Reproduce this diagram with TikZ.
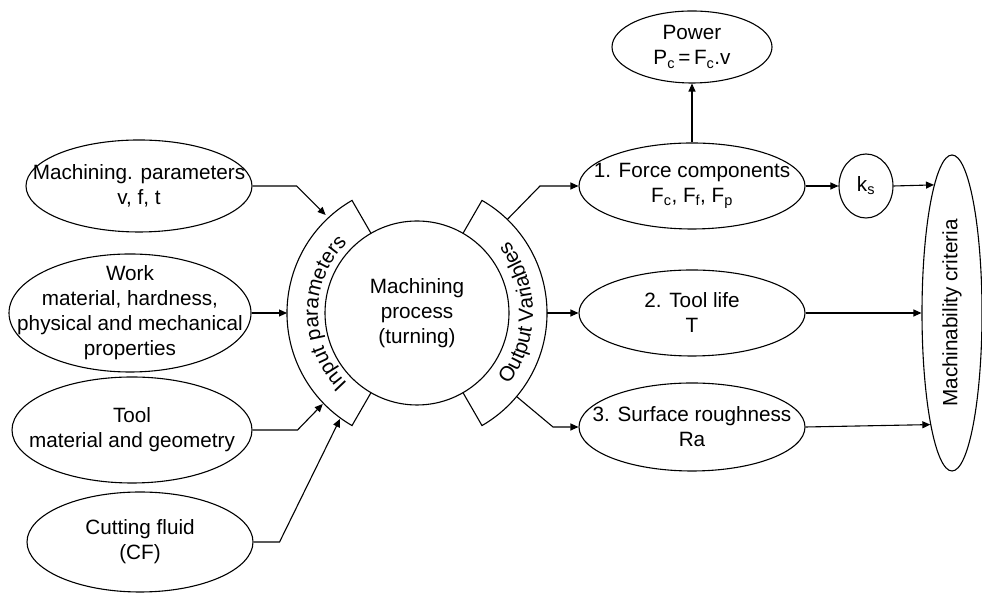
\documentclass[tikz,border=0pt]{standalone}
\usepackage{fontspec}
\setmainfont{Liberation Sans}
\usepackage{graphicx}
\usetikzlibrary{shapes.geometric,arrows.meta,calc,decorations.text}
\newcommand\dfont{\fontsize{20.7}{25}\selectfont}
\tikzset{
  oval/.style={ellipse,draw,line width=1.1pt,inner sep=0pt},
  txt/.style={align=center,font=\dfont},
  arr/.style={-{Triangle[length=8pt,width=7pt]},line width=1.1pt},
}

\begin{document}
\begin{tikzpicture}[x=1pt,y=1pt]
   \useasboundingbox (0,0) rectangle (982,593);

   % process in the middle
   \node[circle,draw,line width=1.1pt,minimum size=184,inner sep=0pt,txt] (proc) at (417,280) {Machining\\process\\(turning)};
   \draw[line width=1.1pt] ($(proc.center)+(120:92)$) -- ++(120:38) arc[start angle=120,end angle=240,radius=130pt] -- ++(60:38);
   \draw[line width=1.1pt] ($(proc.center)+(60:92)$) -- ++(60:38) arc[start angle=60,end angle=-60,radius=130pt] -- ++(120:38);
   \path[decorate,decoration={text along path,text align=center,text={|\dfont|Input parameters}}]
      ($(proc.center)+(240:99)$) arc[start angle=240,end angle=120,radius=99pt];
   \path[decorate,decoration={text along path,text align=center,text={|\dfont|Output Variables}}]
      ($(proc.center)+(-60:116)$) arc[start angle=-60,end angle=60,radius=116pt];

   % inputs
   \node[oval,minimum width=226,minimum height=92,label={[txt]center:Machining. parameters\\v, f, t}] (mpar) at (139,407) {};
   \node[oval,minimum width=242,minimum height=118,label={[txt]center:Work\\material, hardness,\\physical and mechanical\\properties}] (work) at (130,280) {};
   \node[oval,minimum width=240,minimum height=106,label={[txt]center:Tool\\material and geometry}] (tool) at (132,163) {};
   \node[oval,minimum width=226,minimum height=100,label={[txt]center:Cutting fluid\\(CF)}] (fluid) at (140,51) {};

   \coordinate (in1) at ($(proc.center)+(133:134)$);
   \coordinate (in2) at ($(proc.center)+(180:130)$);
   \coordinate (in3) at ($(proc.center)+(224:131)$);
   \coordinate (in4) at ($(proc.center)+(234:131)$);

   \draw[arr] (mpar.east) -- ++(44,0) -- (in1);
   \draw[arr] (work.east) -- (in2);
   \draw[arr] (tool.east) -- ++(45,0) -- (in3);
   \draw[arr] (fluid.east) -- ++(26,0) -- (in4);

   % outputs
   \node[oval,minimum width=226,minimum height=86,label={[txt]center:1. Force components\\F\textsubscript{c}, F\textsubscript{f}, F\textsubscript{p}}] (force) at (692,407) {};
   \node[oval,minimum width=160,minimum height=72,label={[txt]center:Power\\P\textsubscript{c}\,=\,F\textsubscript{c}.v}] (power) at (692,546) {};
   \node[oval,minimum width=54,minimum height=64,label={[txt]center:k\textsubscript{s}}] (ks) at (866,407) {};
   \node[oval,minimum width=226,minimum height=86,label={[txt]center:2. Tool life\\T}] (life) at (692,280) {};
   \node[oval,minimum width=226,minimum height=88,label={[txt]center:3. Surface roughness\\Ra}] (rough) at (692,166) {};
   \node[oval,minimum width=60,minimum height=316,txt] (crit) at (952,280) {\rotatebox{90}{Machinability criteria}};

   \coordinate (out1) at ($(proc.center)+(46:130)$);
   \coordinate (out2) at ($(proc.center)+(0:130)$);
   \coordinate (out3) at ($(proc.center)+(-40:130)$);

   \draw[arr] (out1) -- (540,407) -- (force.west);
   \draw[arr] (out2) -- (life.west);
   \draw[arr] (out3) -- (553,166) -- (rough.west);
   \draw[arr] (force.north) -- (power.south);
   \draw[arr] (force.east) -- (ks.west);
   \draw[arr] (ks.east) -- (crit.98);
   \draw[arr] (life.east) -- (crit.west);
   \draw[arr] (rough.east) -- (crit.259.7);
\end{tikzpicture}
\end{document}
